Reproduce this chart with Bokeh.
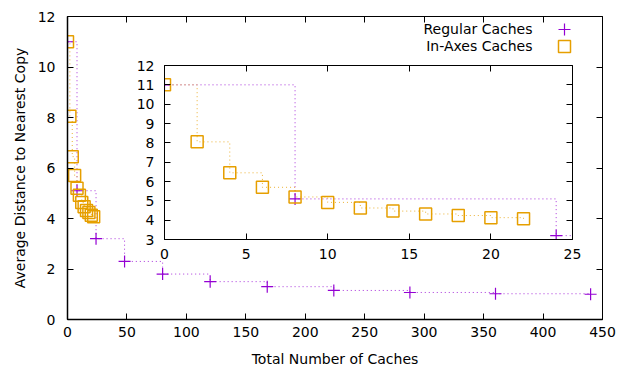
from bokeh.plotting import figure
from bokeh.models import Range1d, LinearAxis, FixedTicker, Legend, LegendItem, Label
from bokeh.layouts import column
from bokeh.embed import file_html
from bokeh.resources import INLINE

# ---------------- data ----------------
reg_x = [0, 8, 24, 48, 80, 120, 168, 224, 288, 360, 440]
reg_y = [11.0, 5.1, 3.2, 2.3, 1.8, 1.5, 1.3, 1.15, 1.07, 1.02, 1.0]

axes_x = [0, 2, 4, 6, 8, 10, 12, 14, 16, 18, 20, 22]
axes_y = [11.0, 8.05, 6.45, 5.7, 5.2, 4.92, 4.63, 4.47, 4.32, 4.24, 4.13, 4.07]

series_names = ["Regular Caches", "In-Axes Caches"]

main_x_ticks = [0, 50, 100, 150, 200, 250, 300, 350, 400, 450]
main_y_ticks = [0, 2, 4, 6, 8, 10, 12]
inset_x_ticks = [0, 5, 10, 15, 20, 25]
inset_y_ticks = [3, 4, 5, 6, 7, 8, 9, 10, 11, 12]

x_label = "Total Number of Caches"
y_label = "Average Distance to Nearest Copy"

# ---------------- styles ----------------
PURPLE = "#9400D3"
ORANGE = "#E69F00"
FONT = "DejaVu Sans"
FS = "14px"
BORDER_L = 67
BORDER_R = 16


def style_axis(ax, ticks, standoff):
    ax.ticker = FixedTicker(ticks=ticks)
    ax.major_tick_in = 6
    ax.major_tick_out = 0
    ax.minor_tick_line_color = None
    ax.major_tick_line_color = "black"
    ax.major_label_text_font = FONT
    ax.major_label_text_font_size = FS
    ax.major_label_text_color = "black"
    ax.major_label_standoff = standoff
    ax.axis_line_color = "black"


def mirror_axis(ticks):
    ax = LinearAxis()
    ax.ticker = FixedTicker(ticks=ticks)
    ax.major_tick_in = 6
    ax.major_tick_out = 0
    ax.minor_tick_line_color = None
    ax.major_tick_line_color = "black"
    ax.major_label_text_font_size = "1px"
    ax.major_label_text_color = None
    ax.major_label_standoff = 0
    ax.axis_line_color = None
    return ax


def draw_series(fig):
    fig.step(reg_x, reg_y, mode="after", line_color=PURPLE, line_width=1,
             line_dash="1 3", line_alpha=0.8)
    fig.step(axes_x, axes_y, mode="after", line_color=ORANGE, line_width=1,
             line_dash="1 3", line_alpha=0.8)
    r1 = fig.scatter(reg_x, reg_y, marker="cross", size=12, line_color=PURPLE,
                     line_width=1.2)
    r2 = fig.scatter(axes_x, axes_y, marker="square", size=12, fill_color=None,
                     line_color=ORANGE, line_width=1.5)
    return r1, r2


# ---------------- main figure ----------------
p = figure(width=618, height=369, x_range=Range1d(0, 450), y_range=Range1d(0, 12),
           output_backend="svg", toolbar_location=None,
           min_border_left=BORDER_L, min_border_right=BORDER_R,
           min_border_top=16, min_border_bottom=49,
           x_axis_label=x_label, y_axis_label=y_label)
p.grid.visible = False
p.outline_line_color = "black"
p.outline_line_width = 1
p.background_fill_color = "white"
p.border_fill_color = "white"

style_axis(p.xaxis[0], main_x_ticks, 7)
style_axis(p.yaxis[0], main_y_ticks, 12)
p.xaxis[0].axis_line_width = 1.5
p.yaxis[0].axis_line_width = 1.5
for ax in (p.xaxis[0], p.yaxis[0]):
    ax.axis_label_text_font = FONT
    ax.axis_label_text_font_size = FS
    ax.axis_label_text_font_style = "normal"
    ax.axis_label_text_color = "black"
p.xaxis[0].axis_label_standoff = 11
p.yaxis[0].axis_label_standoff = 7

p.add_layout(mirror_axis(main_x_ticks), "above")
p.add_layout(mirror_axis(main_y_ticks), "right")

m1, m2 = draw_series(p)

for r, ly in zip([m1, m2], [275, 258]):
    lg = Legend(items=[LegendItem(label=" ", renderers=[r])],
                location=(482, ly), glyph_width=30, glyph_height=30,
                padding=0, margin=0, border_line_color=None, background_fill_alpha=0,
                label_standoff=0, label_width=0, label_height=0,
                label_text_font_size="1px", label_text_color=None)
    p.add_layout(lg, "center")

for name, ly in zip(series_names, [291, 273.5]):
    p.add_layout(Label(x=465, y=ly, x_units="screen", y_units="screen", text=name,
                       text_align="right", text_baseline="middle",
                       text_font=FONT, text_font_size=FS, text_color="black"))

# ---------------- inset figure ----------------
q = figure(width=BORDER_L + 408 + BORDER_R, height=214,
           x_range=Range1d(0, 25), y_range=Range1d(3, 12),
           output_backend="svg", toolbar_location=None,
           min_border_left=BORDER_L, min_border_right=BORDER_R,
           min_border_top=10, min_border_bottom=30)
q.grid.visible = False
q.outline_line_color = "black"
q.outline_line_width = 1
q.background_fill_color = "white"
q.border_fill_color = None
style_axis(q.xaxis[0], inset_x_ticks, 9)
style_axis(q.yaxis[0], inset_y_ticks, 10)
q.add_layout(mirror_axis(inset_x_ticks), "above")
q.add_layout(mirror_axis(inset_y_ticks), "right")
draw_series(q)
q.styles = {"position": "absolute", "left": "97px", "top": "55px"}

layout = column(p, q, styles={"position": "relative"})

open("out.html", "w").write(file_html(layout, INLINE))
